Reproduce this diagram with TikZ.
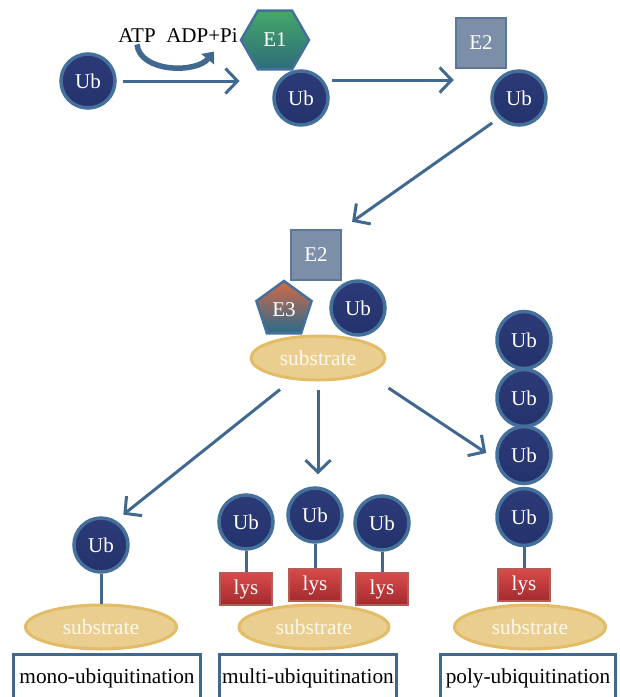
\documentclass[tikz,border=0pt]{standalone}
\usepackage{fontspec}
\setmainfont{Liberation Serif}
\usepackage{tikz}
\usetikzlibrary{shapes.geometric,arrows.meta}
\definecolor{ubfill}{HTML}{24326C}
\definecolor{ubtop}{HTML}{2C3B78}
\definecolor{ubedge}{HTML}{44709B}
\definecolor{arrowblue}{HTML}{41698F}
\definecolor{etwofill}{HTML}{7D8EA8}
\definecolor{etwoedge}{HTML}{5C7899}
\definecolor{eonetop}{HTML}{45A86A}
\definecolor{eonebot}{HTML}{2D6C7A}
\definecolor{ethreetop}{HTML}{D36A45}
\definecolor{ethreebot}{HTML}{2A6A8C}
\definecolor{subfill}{HTML}{EACE90}
\definecolor{subedge}{HTML}{E2BC66}
\definecolor{subtext}{HTML}{FFF8EA}
\definecolor{lystop}{HTML}{D84A4A}
\definecolor{lysbot}{HTML}{A32A2E}
\definecolor{lysedge}{HTML}{B85A55}

\begin{document}
\begin{tikzpicture}[x=1pt,y=-1pt,
    ub/.style={circle,draw=ubedge,line width=3.5pt,top color=ubtop,bottom color=ubfill,
      text=white,minimum size=54pt,inner sep=0pt,font=\fontsize{21}{23}\selectfont},
    enz/.style={draw=ubedge,line width=2.5pt,text=white,inner sep=0pt,
      font=\fontsize{21}{23}\selectfont},
    sub/.style={ellipse,draw=subedge,line width=3pt,fill=subfill,text=subtext,
      minimum height=44pt,inner sep=0pt,font=\fontsize{21.5}{23}\selectfont},
    lys/.style={rectangle,draw=lysedge,line width=1.5pt,top color=lystop,bottom color=lysbot,
      text=white,minimum width=52pt,minimum height=32pt,inner sep=0pt,
      font=\fontsize{21}{23}\selectfont},
    tag/.style={rectangle,draw=arrowblue,line width=3pt,fill=white,minimum height=48pt,
      inner sep=0pt,font=\fontsize{21.3}{23}\selectfont},
    conn/.style={draw=arrowblue,line width=3pt,-{Straight Barb[length=12pt,width=25pt]}},
    stem/.style={draw=arrowblue,line width=3pt}]
  \useasboundingbox (0,0) rectangle (620,697);

  % E1 step
  \node (atp) at (137,36) {\fontsize{21}{23}\selectfont ATP};
  \node (adp) at (202,36) {\fontsize{21}{23}\selectfont ADP+Pi};
  \draw[arrowblue,line width=5.5pt,-{Triangle[length=10pt,width=16pt]}]
    ([yshift=2]atp.south) .. controls +(3,28) and +(-18,22) .. ([shift={(12,5)}]adp.south);
  \node[ub] (ubA) at (88,81) {Ub};
  \node[enz,regular polygon,regular polygon sides=6,minimum size=68pt,
    top color=eonetop,bottom color=eonebot] (eOne) at (275,40) {E1};
  \node[ub] (ubB) at (301,98) {Ub};
  \draw[conn,shorten <=6pt] (ubA.east) -- (ubA.east -| eOne.west);

  % E2 step
  \node[enz,rectangle,draw=etwoedge,fill=etwofill,minimum size=50pt] (eTwoA) at (481,43) {E2};
  \node[ub] (ubC) at (519,98) {Ub};
  \draw[conn,shorten >=3pt] ([shift={(2,-18)}]ubB.east) -- ([shift={(2,-18)}]ubB.east -| eTwoA.west);

  % E3 step
  \node[enz,rectangle,draw=etwoedge,fill=etwofill,minimum size=50pt] (eTwoB) at (316,255) {E2};
  \node[enz,regular polygon,regular polygon sides=5,minimum size=58pt,
    top color=ethreetop,bottom color=ethreebot] (eThree) at (284,310) {E3};
  \node[ub] (ubD) at (358,308) {Ub};
  \node[sub,minimum width=134pt] (subTop) at (318,358) {substrate};
  \draw[conn,shorten <=8pt,shorten >=12pt] (ubC.225) -- (eTwoB.north east);

  % mono
  \node[ub] (ubMono) at (101,545) {Ub};
  \node[sub,minimum width=151pt] (subMono) at (101,627) {substrate};
  \draw[stem] (ubMono) -- (subMono);
  \draw[conn] ([shift={(-38,8)}]subTop.south) -- ([shift={(2,-10)}]ubMono.north east);

  % multi
  \node[sub,minimum width=150pt] (subMulti) at (314,627) {substrate};
  \foreach \i/\x/\yu/\yl in {1/246/522/589,2/315/515/585,3/382/523/589}{
    \node[ub] (ubM\i) at (\x,\yu) {Ub};
    \node[lys] (lysM\i) at (\x,\yl) {lys};
    \draw[stem] (ubM\i) -- (lysM\i);
  }
  \draw[conn,shorten <=8pt,shorten >=12pt] (subTop.south) -- (subTop.south |- ubM2.north);

  % poly
  \foreach \i/\y in {1/340,2/398,3/455,4/517}
    \node[ub,ellipse,minimum width=54pt,minimum height=57pt] (ubP\i) at (524,\y) {Ub};
  \node[sub,minimum width=151pt] (subPoly) at (530,627) {substrate};
  \node[lys] (lysP) at (524,585) {lys};
  \draw[stem] (ubP4) -- (lysP);
  \draw[conn] ([shift={(2,30)}]subTop.east) -- ([shift={(-9,-2)}]ubP3.west);

  % labels
  \node[tag,minimum width=187pt] (tagMono) at (107,678) {mono-ubiquitination};
  \node[tag,minimum width=177pt] (tagMulti) at (308,678) {multi-ubiquitination};
  \node[tag,minimum width=175pt] (tagPoly) at (528,678) {poly-ubiquitination};
\end{tikzpicture}
\end{document}
